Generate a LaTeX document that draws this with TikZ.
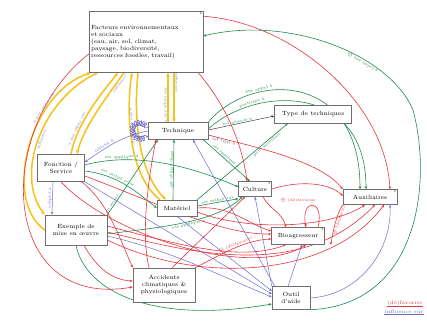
\documentclass[tikz,border=0pt]{standalone}
\usepackage{fontspec}
\usetikzlibrary{arrows.meta,decorations.pathmorphing}
\definecolor{yl}{HTML}{F3C21C}
\definecolor{gn}{HTML}{1E8A4E}
\definecolor{rd}{HTML}{E5353D}
\definecolor{bl}{HTML}{6E6CCB}
\definecolor{bx}{HTML}{6E6E6E}
\definecolor{lg}{HTML}{7A86A8}
\pgfdeclarelayer{back}
\pgfdeclarelayer{bg}
\pgfsetlayers{back,bg,main}
\tikzset{
  box/.style={draw=bx, line width=0.5pt, fill=white, inner sep=2pt, align=center, font=\fontsize{6}{7}\selectfont},
  starmark/.style={label={[font=\fontsize{4}{4}\selectfont, inner sep=0.8pt, anchor=north east]north east:#1}},
  yarr/.style={draw=yl, line width=1.5pt, -{Stealth[length=4pt,width=3.5pt]}},
  garr/.style={draw=gn, line width=0.6pt, -{Stealth[length=3pt,width=2.5pt]}},
  rarr/.style={draw=rd, line width=0.6pt, -{Stealth[length=3pt,width=2.5pt]}},
  barr/.style={draw=bl, line width=0.5pt, -{Stealth[length=3pt,width=2.5pt]}},
  karr/.style={draw=black!75, line width=0.5pt, -{Stealth[length=3pt,width=2.5pt]}},
  lbl/.style={font=\fontsize{4}{4.5}\selectfont, inner sep=0.6pt, sloped},
}
\begin{document}
\begin{tikzpicture}[x=1pt,y=-1pt]
\useasboundingbox (0,0) rectangle (427,323);
\begin{pgfonlayer}{back}
\fill[white] (0,0) rectangle (427,323);
\end{pgfonlayer}

% ---------- nodes ----------
\node[box, align=left, text width=110pt, minimum height=61pt, starmark=1] (fact) at (146,42)
  {Facteurs environnementaux\\ et sociaux\\ (eau, air, sol, climat,\\ paysage, biodiversité,\\ ressources fossiles, travail)};
\node[box, minimum width=60pt, minimum height=17pt] (tech) at (178,131) {Technique};
\node[box, minimum width=77pt, minimum height=18pt] (type) at (313,114) {Type de techniques};
\node[box, minimum width=47pt, minimum height=27pt] (fonc) at (61,168) {Fonction /\\ Service};
\node[box, minimum width=62pt, minimum height=30pt] (exem) at (76,230) {Exemple de\\ mise en œuvre};
\node[box, minimum width=40pt, minimum height=16pt] (mat) at (177,208) {Matériel};
\node[box, minimum width=33pt, minimum height=15pt, starmark=*] (cult) at (255,189) {Culture};
\node[box, minimum width=54pt, minimum height=15pt, starmark=*] (aux) at (370,197) {Auxiliaires};
\node[box, minimum width=53pt, minimum height=17pt, starmark=*] (bio) at (298,236) {Bioagresseur};
\node[box, minimum width=62pt, minimum height=34pt] (acc) at (164,285) {Accidents\\ climatiques \&\\ physiologiques};
\node[box, minimum width=38pt, minimum height=23pt] (outil) at (291,298) {Outil\\ d'aide};

\node[text=rd, font=\fontsize{5}{5}\selectfont, inner sep=0.5pt] (leg1) at (405,303) {(dé)favorise};
\node[text=bl, font=\fontsize{5}{5}\selectfont, inner sep=0.5pt] (leg2) at (404,312) {influence sur};
\draw[rd, line width=0.4pt] (leg1.south west) -- (leg1.south east);
\draw[bl, line width=0.4pt] (leg2.south west) -- (leg2.south east);

\begin{pgfonlayer}{bg}
% ---------- yellow ----------
\draw[yarr] (exem.west) .. controls (2,200) and (30,92) .. ([xshift=2pt]fact.south west)
  node[lbl, pos=.7, above, text=lg]{a des effets sur};
\draw[yarr] ([xshift=9pt]fact.south west) .. controls (42,98) and (14,175) .. (exem.north west)
  node[lbl, pos=.5, below, text=lg]{influence};
\draw[yarr] ([xshift=10pt]fonc.north) .. controls (76,125) and (100,95) .. ([xshift=-28pt]fact.south)
  node[lbl, pos=.28, above, text=lg]{a des effets sur};
\draw[yarr] ([xshift=-22pt]fact.south) .. controls (106,98) and (83,128) .. ([xshift=16pt]fonc.north)
  node[lbl, pos=.12, below, text=lg]{influence};
\draw[yarr] ([xshift=-17pt]mat.north) .. controls (128,175) and (126,110) .. ([xshift=-14pt]fact.south)
  node[lbl, pos=.6, above, text=lg]{a des effets sur};
\draw[yarr] ([xshift=-8pt]fact.south) .. controls (134,110) and (136,170) .. ([xshift=-11pt]mat.north);
\draw[yarr] ([xshift=-10pt]tech.north) -- ([xshift=22pt]fact.south)
  node[lbl, pos=.35, above, text=lg]{a des effets sur};
\draw[yarr] ([xshift=28pt]fact.south) -- ([xshift=-4pt]tech.north)
  node[lbl, pos=.2, above, text=lg]{influence};

% ---------- green ----------
\draw[garr] (tech.north east) .. controls (250,72) and (360,70) .. ([xshift=-10pt]aux.north)
  node[lbl, pos=.3, above, text=gn]{fait appel à};
\draw[garr] ([yshift=2pt]tech.east) .. controls (255,86) and (366,82) .. ([xshift=-4pt]aux.north)
  node[lbl, pos=.25, above, text=gn]{participe à};
\draw[karr] ([yshift=1pt]tech.east) -- ([yshift=-2pt]type.west)
  node[lbl, pos=.45, above, text=gn]{est associé à};
\draw[garr] (outil.south east) .. controls (420,305) and (432,180) .. (413,110)
  .. controls (390,55) and (290,15) .. ([yshift=6pt]fact.east)
  node[lbl, pos=.35, below, text=gn]{$\oplus$ fait appel à};
\draw[garr] (exem.south) .. controls (85,290) and (150,325) .. ([yshift=-6pt]outil.west)
  node[lbl, pos=.55, above, text=gn]{utilise};
\draw[garr] ([xshift=-4pt]mat.north) -- ([xshift=-4pt]tech.south)
  node[lbl, midway, above, text=gn]{est utilisé dans};
\draw[garr] (exem.north east) .. controls (118,200) and (140,165) .. ([xshift=-20pt]tech.south)
  node[lbl, pos=.1, above, text=gn]{met en œuvre};
\draw[garr] ([yshift=3pt]fonc.east) .. controls (140,150) and (200,170) .. ([yshift=2pt]cult.west)
  node[lbl, pos=.22, above, text=gn]{est appliqué à};
\draw[garr] ([yshift=-3pt]fonc.east) .. controls (120,175) and (140,195) .. (mat.west)
  node[lbl, pos=.35, above, text=gn]{est utilisé pour};
\draw[garr] ([xshift=-5pt]tech.south east) -- ([xshift=-5pt]cult.north)
  node[lbl, pos=.45, above, text=gn]{est appliqué à};
\draw[garr] (mat.north east) -- ([xshift=-25pt]type.south)
  node[lbl, pos=.75, below, text=gn]{peut mobiliser};
\draw[garr] ([yshift=2pt]mat.east) -- ([yshift=-2pt]cult.south west)
  node[lbl, pos=.5, above, text=gn]{est utilisé sur};
\draw[garr] ([yshift=-4pt]exem.east) .. controls (150,228) and (215,224) .. ([xshift=4pt]cult.south west)
  node[lbl, pos=.55, below, text=gn]{est appliqué à};

% ---------- blue ----------
\draw[barr] (tech.west) .. controls (120,136) and (100,152) .. ([yshift=6pt]fonc.east)
  node[lbl, pos=.6, above, text=bl]{répond à};
\draw[barr] ([xshift=-8pt]fonc.south) -- ([xshift=-24pt]exem.north)
  node[lbl, midway, above, text=bl]{adapté à};
\draw[bl, line width=0.6pt, decorate, decoration={coil, aspect=0.6, segment length=2.5pt, amplitude=2.5pt}]
  ([yshift=4pt]tech.west) .. controls (128,112) and (128,148) .. ([yshift=-5pt]tech.west);
\draw[barr] (outil.north west) -- (cult.south);
\draw[barr] ([xshift=-3pt]outil.north) -- ([xshift=4pt]bio.south);
\draw[barr] (outil.east) .. controls (360,295) and (392,250) .. ([xshift=20pt]aux.south);
\draw[barr] (fonc.south east) -- ([yshift=4pt]outil.west);
\draw[barr] ([yshift=-6pt]exem.east) .. controls (170,250) and (230,280) .. ([yshift=1pt]outil.west);
\draw[barr] (mat.south) -- ([yshift=7pt]outil.west);
\draw[barr] ([xshift=3pt]outil.north west) -- ([xshift=15pt]tech.south);

% ---------- red ----------
\draw[rarr] ([xshift=-5pt]fact.south east) .. controls (230,110) and (243,150) .. ([xshift=-8pt]cult.north);
\draw[rarr] ([yshift=-5pt]fact.north east) .. controls (290,22) and (385,100) .. ([xshift=20pt]aux.north);
\draw[rarr] ([yshift=-4pt]tech.east) .. controls (250,146) and (320,160) .. (aux.north west)
  node[lbl, pos=.12, below, text=black!70]{est relié à};
\draw[rarr] ([yshift=-12pt]fact.west) .. controls (-8,130) and (0,310) .. ([yshift=-2pt]acc.west);
\draw[rarr] ([xshift=-15pt]acc.north) .. controls (140,230) and (150,170) .. ([xshift=-22pt]tech.south);
\draw[rarr] ([xshift=8pt]acc.north) -- ([xshift=-10pt]cult.south);
\draw[rarr] (acc.north east) .. controls (220,255) and (245,240) .. ([yshift=-3pt]bio.west)
  node[lbl, pos=.55, above, text=rd]{$\oplus$ (dé)favorise};
\draw[rarr] ([yshift=-2pt]exem.east) .. controls (190,252) and (300,282) .. ([xshift=5pt]aux.south);
\draw[rarr] ([yshift=-10pt]exem.east) .. controls (200,285) and (330,278) .. ([xshift=14pt]aux.south);
\draw[rarr] ([yshift=4pt]exem.east) .. controls (180,245) and (240,262) .. ([xshift=-12pt]bio.south);
\draw[rarr] ([xshift=8pt]exem.south) .. controls (95,265) and (110,280) .. ([yshift=4pt]acc.west);
\draw[rarr] ([yshift=-8pt]fonc.east) .. controls (150,200) and (220,235) .. ([yshift=2pt]bio.west);
\draw[rarr] (fonc.south) .. controls (110,235) and (250,280) .. ([xshift=8pt]bio.south);
\draw[rarr] ([xshift=-3pt]fonc.south east) .. controls (110,205) and (120,240) .. (acc.north west);
\draw[rarr] (mat.east) .. controls (230,205) and (250,225) .. ([yshift=5pt]bio.west);
\draw[rarr] ([yshift=-4pt]mat.east) .. controls (250,232) and (330,228) .. ([xshift=-5pt]aux.south);
\draw[rarr] (cult.east) .. controls (300,180) and (330,183) .. ([yshift=1pt]aux.west);
\draw[rarr] ([xshift=8pt]cult.south) .. controls (270,210) and (282,212) .. ([xshift=-12pt]bio.north);
\draw[rarr] ([xshift=20pt]bio.north) .. controls (325,198) and (300,198) .. ([xshift=8pt]bio.north);
\node[text=rd, font=\fontsize{4}{4.5}\selectfont, inner sep=0.6pt, anchor=south] (loopl) at ([yshift=24pt]bio.north) {$\oplus$ (dé)favorise};
\draw[rarr] (aux.south west) .. controls (336,215) and (333,232) .. ([xshift=6pt]bio.south east)
  node[lbl, pos=.35, below, text=rd]{$\oplus$ (dé)favorise};
\end{pgfonlayer}
\end{tikzpicture}
\end{document}
